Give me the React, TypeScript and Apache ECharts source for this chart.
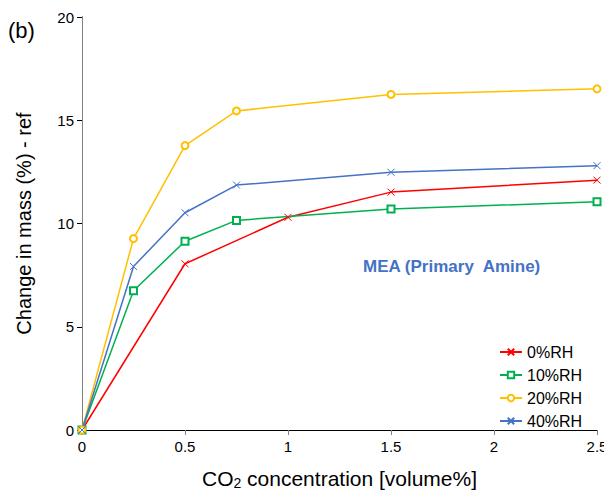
import React, { useEffect, useRef } from "react";
import * as echarts from "echarts";

const seriesNames = ["0%RH", "10%RH", "20%RH", "40%RH"];
const colors = ["#FF0000", "#00B050", "#FFC000", "#4472C4"];
const rh0: [number, number][] = [[0, 0], [0.5, 8.05], [1.0, 10.3], [1.5, 11.52], [2.5, 12.1]];
const rh10: [number, number][] = [[0, 0], [0.25, 6.74], [0.5, 9.14], [0.75, 10.15], [1.5, 10.7], [2.5, 11.05]];
const rh20: [number, number][] = [[0, 0], [0.25, 9.27], [0.5, 13.77], [0.75, 15.45], [1.5, 16.25], [2.5, 16.52]];
const rh40: [number, number][] = [[0, 0], [0.25, 7.92], [0.5, 10.52], [0.75, 11.86], [1.5, 12.48], [2.5, 12.8]];
const seriesData = [rh0, rh10, rh20, rh40];

const crossPath = "path://M0,0L10,10M10,0L0,10";
const symbols = [crossPath, "emptyRect", "emptyCircle", crossPath];

export default function App() {
  const ref = useRef<HTMLDivElement>(null);
  useEffect(() => {
    document.body.style.margin = "0";
    const chart = echarts.init(ref.current!, null, { renderer: "svg" });
    const font = "Arial, 'Liberation Sans', sans-serif";
    chart.setOption({
      animation: false,
      backgroundColor: "#fff",
      textStyle: { fontFamily: font },
      grid: { left: 82, right: 7, top: 17, bottom: 65, outerBoundsMode: "none", containLabel: false },
      legend: {
        orient: "vertical",
        left: 494,
        top: 339,
        itemWidth: 22,
        itemHeight: 8,
        itemGap: 7,
        data: seriesNames,
        textStyle: { fontSize: 16, color: "#000", fontFamily: font },
      },
      xAxis: [
        {
          type: "value",
          min: 0,
          max: 2.5,
          interval: 0.5,
          splitLine: { show: false },
          axisLine: { lineStyle: { color: "#808080", width: 1 } },
          axisTick: { show: true, length: 5, lineStyle: { color: "#808080" } },
          axisLabel: { color: "#000", fontSize: 15, margin: 9, fontFamily: font },
          name: "{a|CO}{s|2}{a| concentration [volume%]}",
          nameLocation: "middle",
          nameGap: 37,
          nameTextStyle: {
            rich: {
              a: { fontSize: 21, color: "#000", fontFamily: font },
              s: { fontSize: 14, color: "#000", fontFamily: font, verticalAlign: "bottom", padding: [9, 0, 0, 0] },
            },
          },
        },
        {
          type: "value",
          position: "top",
          min: 0,
          max: 2.5,
          axisLine: { show: true, lineStyle: { color: "#000", width: 1 } },
          axisTick: { show: false },
          axisLabel: { show: false },
          splitLine: { show: false },
        },
      ],
      yAxis: [
        {
          type: "value",
          min: 0,
          max: 20,
          interval: 5,
          splitLine: { show: false },
          axisLine: { show: true, lineStyle: { color: "#000", width: 1 } },
          axisTick: { show: true, length: 5, lineStyle: { color: "#000" } },
          axisLabel: { color: "#000", fontSize: 15, margin: 8, fontFamily: font },
          name: "Change in mass (%) - ref",
          nameLocation: "middle",
          nameGap: 48,
          nameTextStyle: { fontSize: 20, color: "#000", fontFamily: font },
        },
        {
          type: "value",
          position: "right",
          min: 0,
          max: 20,
          axisLine: { show: true, lineStyle: { color: "#808080", width: 1 } },
          axisTick: { show: false },
          axisLabel: { show: false },
          splitLine: { show: false },
        },
      ],
      graphic: [
        {
          type: "text",
          left: 8,
          top: 19,
          style: { text: "(b)", fontSize: 22, fill: "#000", fontFamily: font },
        },
        {
          type: "text",
          left: 363,
          top: 258,
          style: { text: "MEA (Primary  Amine)", fontSize: 17, fontWeight: "bold", fill: "#4472C4", fontFamily: font },
        },
      ],
      series: seriesNames.map((name, i) => ({
        name,
        type: "line",
        data: seriesData[i],
        symbol: symbols[i],
        symbolSize: 7,
        showAllSymbol: true,
        clip: false,
        lineStyle: { color: colors[i], width: 1.5 },
        itemStyle:
          i === 0 || i === 3
            ? { color: "none", borderColor: colors[i], borderWidth: 1 }
            : { color: colors[i], borderWidth: 1 },
      })),
    });
    return () => chart.dispose();
  }, []);
  return <div ref={ref} style={{ width: 604, height: 495 }} />;
}
